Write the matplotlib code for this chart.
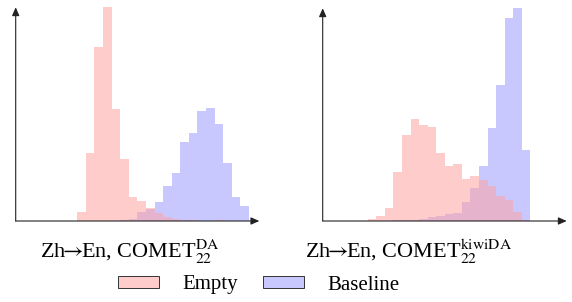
import matplotlib
matplotlib.use("Agg")
import matplotlib.pyplot as plt
import numpy as np
from matplotlib.patches import Patch

# histogram counts per score bin
da_empty = [26, 204, 521, 645, 335, 186, 72, 59, 40, 23, 12, 7, 3, 2, 1, 1, 4, 1, 0, 0]
da_baseline = [0, 0, 0, 0, 1, 3, 5, 28, 36, 56, 106, 144, 238, 264, 330, 340, 292, 174, 72, 44]
kiwi_empty = [5, 15, 40, 148, 259, 305, 288, 282, 204, 166, 171, 126, 134, 122, 106, 76, 63, 27, 3]
kiwi_baseline = [0, 0, 1, 2, 3, 3, 6, 11, 16, 20, 23, 56, 98, 166, 278, 407, 608, 645, 213]

titles = [r"Zh$\!\!\rightarrow\!\!$En, COMET$_{22}^{\mathrm{DA}}$",
          r"Zh$\!\!\rightarrow\!\!$En, COMET$_{22}^{\mathrm{kiwiDA}}$"]
legend_labels = ["Empty", "Baseline"]

red_face = (1.0, 162 / 255, 162 / 255)
red_alpha = 0.55
blue_face = "#C8C8FF"

plt.rcParams["font.family"] = ["Liberation Serif", "DejaVu Serif"]
plt.rcParams["mathtext.fontset"] = "stix"

W, H = 572, 302
fig = plt.figure(figsize=(W / 100, H / 100), dpi=100)


def px_axes(x0, x1, ytop, ybot):
    return fig.add_axes([x0 / W, (H - ybot) / H, (x1 - x0) / W, (ybot - ytop) / H])


def draw_panel(ax, empty, baseline, xlim, ytop):
    pos = np.arange(len(empty))
    ax.bar(pos, baseline, width=1.0, align="edge", color=blue_face, linewidth=0, zorder=1)
    ax.bar(pos, empty, width=1.0, align="edge", color=red_face, alpha=red_alpha,
           linewidth=0, zorder=2)
    ax.set_xlim(*xlim)
    ax.set_ylim(0, ytop)
    for s in ax.spines.values():
        s.set_visible(False)
    ax.set_xticks([])
    ax.set_yticks([])
    ax.patch.set_alpha(0)
    arrow = dict(arrowstyle="-|>,head_length=0.5,head_width=0.22", color="#222222",
                 lw=0.8, shrinkA=0, shrinkB=0)
    ax.annotate("", xy=(1, 0), xytext=(0, 0), xycoords="axes fraction",
                arrowprops=arrow, zorder=5)
    ax.annotate("", xy=(0, 1), xytext=(0, 0), xycoords="axes fraction",
                arrowprops=arrow, zorder=5)


ax1 = px_axes(15.7, 259.3, 7.3, 221)
draw_panel(ax1, da_empty, da_baseline, (-7.18, 21.2), 641)
ax2 = px_axes(322.7, 566.7, 8.3, 221)
draw_panel(ax2, kiwi_empty, kiwi_baseline, (-5.25, 23.23), 638)

fs = 16
fig.text(129.5 / W, 1 - 258.3 / H, titles[0], ha="center", va="baseline", fontsize=fs)
fig.text(409 / W, 1 - 258.3 / H, titles[1], ha="center", va="baseline", fontsize=fs)

handles = [Patch(facecolor=(1.0, 0.8, 0.8), edgecolor="#333333", linewidth=0.7),
           Patch(facecolor=blue_face, edgecolor="#333333", linewidth=0.7)]
fig.legend(handles, legend_labels, loc="center", bbox_to_anchor=(258.5 / W, 1 - 285 / H),
           ncol=2, frameon=False, fontsize=15, handlelength=2.0, handleheight=0.45,
           handletextpad=1.1, columnspacing=1.2, borderpad=0, borderaxespad=0)

fig.savefig("out.png", dpi=100)
